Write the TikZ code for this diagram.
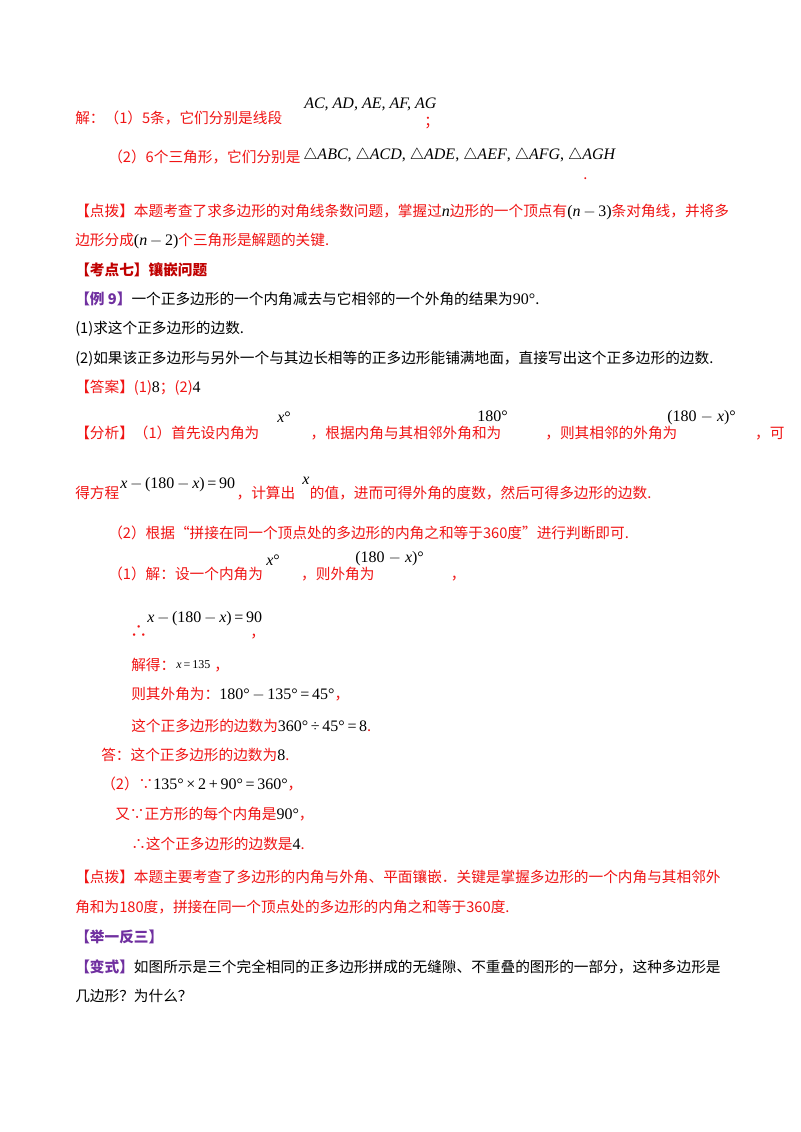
\documentclass[tikz,border=0pt]{standalone}
\usepackage{fontspec}
\setmainfont{Noto Sans CJK SC}
\newfontfamily\mf{Liberation Serif}
\definecolor{rd}{RGB}{240,20,20}
\definecolor{pp}{RGB}{112,48,160}
\definecolor{dr}{RGB}{192,0,0}
\newcommand{\mm}[1]{\textcolor{black}{\fontsize{12}{13}\mf #1}}
\newcommand{\mi}[1]{\textcolor{black}{\fontsize{12}{13}\mf\itshape #1}}
\begin{document}
\begin{tikzpicture}[x=0.75pt,y=-0.75pt,
  t/.style={anchor=base west,inner sep=0pt,font=\fontsize{11}{13}\selectfont,text=rd},
  m/.style={anchor=base west,inner sep=0pt,font=\fontsize{12}{13}\selectfont\mf,text=black}]
\useasboundingbox (0,0) rectangle (800,1132);
\fill[white] (0,0) rectangle (800,1132);
\node[t] (a1) at (75,123) {解：（1）5条，它们分别是线段};
\node[m] (a2) at (304,108) {\itshape AC, AD, AE, AF, AG};
\node[t] (a3) at (424,126) {；};
\node[t] (b1) at (108,162) {（2）6个三角形，它们分别是};
\node[m] (b2) at (303,159) {$\triangle$\itshape ABC\upshape, $\triangle$\itshape ACD\upshape, $\triangle$\itshape ADE\upshape, $\triangle$\itshape AEF\upshape, $\triangle$\itshape AFG\upshape, $\triangle$\itshape AGH};
\node[t] (b3) at (583,179) {.};
\node[t] (c1) at (75,216) {【点拨】本题考查了求多边形的对角线条数问题，掌握过\mi{n}边形的一个顶点有\mm{(\textit{n}\,$-$\,3)}条对角线，并将多};
\node[t] (c2) at (75,245) {边形分成\mm{(\textit{n}\,$-$\,2)}个三角形是解题的关键.};
\node[t,text=dr,font=\fontsize{11}{13}\selectfont\bfseries] (d) at (75,275) {【考点七】镶嵌问题};
\node[t,text=black] (e) at (75,304) {\textcolor{pp}{\bfseries【例 9】}一个正多边形的一个内角减去与它相邻的一个外角的结果为\mm{90°}.};
\node[t,text=black] (f) at (75,333) {(1)求这个正多边形的边数.};
\node[t,text=black] (g) at (75,363) {(2)如果该正多边形与另外一个与其边长相等的正多边形能铺满地面，直接写出这个正多边形的边数.};
\node[t] (h) at (75,392) {【答案】(1)\mm{8}；(2)\mm{4}};
\node[t] (i1) at (75,438) {【分析】（1）首先设内角为\hspace{3.5em}，根据内角与其相邻外角和为\hspace{3em}，则其相邻的外角为\hspace{5.3em}，可};
\node[m] (i2) at (277,422) {\itshape x\upshape°};
\node[m] (i3) at (477,421) {180°};
\node[m] (i4) at (667,421) {(180 $-$ \textit{x})°};
\node[t] (j1) at (75,498) {得方程\hspace{8em}，计算出\hspace{1em}的值，进而可得外角的度数，然后可得多边形的边数.};
\node[m] (j2) at (120,488) {\itshape x\upshape\,$-$\,(180\,$-$\,\itshape x\upshape)\,=\,90};
\node[m] (j3) at (302,484) {\itshape x};
\node[t] (k) at (108,538) {（2）根据“拼接在同一个顶点处的多边形的内角之和等于360度”进行判断即可.};
\node[t] (l1) at (108,579) {（1）解：设一个内角为\hspace{2.6em}，则外角为\hspace{5.2em}，};
\node[m] (l2) at (266,565) {\itshape x\upshape°};
\node[m] (l3) at (355,562) {(180 $-$ \textit{x})°};
\node[t,font=\fontsize{13}{14}\selectfont] (n1) at (130,637) {∴};
\node[m] (n2) at (147,622) {\itshape x\upshape\,$-$\,(180\,$-$\,\itshape x\upshape)\,=\,90};
\node[t] (n3) at (250,637) {，};
\node[t] (o1) at (131,670) {解得：};
\node[m,font=\fontsize{9}{10}\selectfont\mf] (o2) at (176,668) {\itshape x\upshape\,=\,135};
\node[t] (o3) at (214,670) {，};
\node[t] (p1) at (131,699) {则其外角为：\mm{180°\,$-$\,135°\,=\,45°}，};
\node[t] (q1) at (131,731) {这个正多边形的边数为\mm{360°\,÷\,45°\,=\,8}.};
\node[t] (r1) at (101,760) {答：这个正多边形的边数为\mm{8}.};
\node[t] (s1) at (101,789) {（2）∵\mm{135°\,×\,2\,+\,90°\,=\,360°}，};
\node[t] (t1) at (115,819) {又∵正方形的每个内角是\mm{90°}，};
\node[t] (u1) at (131,849) {∴这个正多边形的边数是\mm{4}.};
\node[t] (v1) at (75,882) {【点拨】本题主要考查了多边形的内角与外角、平面镶嵌．关键是掌握多边形的一个内角与其相邻外};
\node[t] (v2) at (75,912) {角和为180度，拼接在同一个顶点处的多边形的内角之和等于360度.};
\node[t,text=pp,font=\fontsize{11}{13}\selectfont\bfseries] (w) at (75,942) {【举一反三】};
\node[t,text=black] (x1) at (75,972) {\textcolor{pp}{\bfseries【变式】}如图所示是三个完全相同的正多边形拼成的无缝隙、不重叠的图形的一部分，这种多边形是};
\node[t,text=black] (x2) at (75,1001) {几边形？为什么？};
\end{tikzpicture}
\end{document}
